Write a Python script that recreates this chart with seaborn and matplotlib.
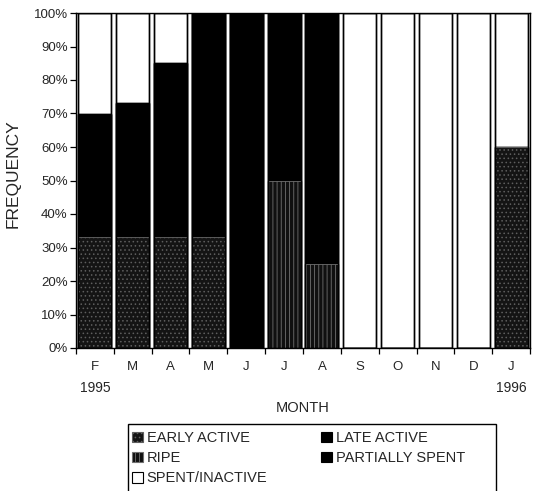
import matplotlib
matplotlib.use('Agg')
import matplotlib.pyplot as plt
from matplotlib.patches import Patch, Rectangle
from matplotlib.transforms import blended_transform_factory
import seaborn as sns
import pandas as pd
import numpy as np

# ---------------- data ----------------
months = ['F', 'M', 'A', 'M', 'J', 'J', 'A', 'S', 'O', 'N', 'D', 'J']
early_active = [33, 33, 33, 33, 0, 0, 0, 0, 0, 0, 0, 60]
ripe = [0, 0, 0, 0, 0, 50, 25, 0, 0, 0, 0, 0]
late_active = [37, 40, 52, 67, 100, 0, 0, 0, 0, 0, 0, 0]
partially_spent = [0, 0, 0, 0, 0, 50, 75, 0, 0, 0, 0, 0]
spent_inactive = [30, 27, 15, 0, 0, 0, 0, 100, 100, 100, 100, 40]
year_labels = {0: '1995', 11: '1996'}

sns.set_theme(style='white')
plt.rcParams['font.family'] = ['Liberation Sans', 'DejaVu Sans']
plt.rcParams['hatch.linewidth'] = 0.6

layers = [
    ('EARLY ACTIVE', early_active, dict(facecolor='#141414', hatch='....', edgecolor='#5e5e5e')),
    ('RIPE', ripe, dict(facecolor='#101010', hatch='||||', edgecolor='#707070')),
    ('LATE ACTIVE', late_active, dict(facecolor='black', hatch=None, edgecolor='black')),
    ('PARTIALLY SPENT', partially_spent, dict(facecolor='black', hatch=None, edgecolor='black')),
    ('SPENT/INACTIVE', spent_inactive, dict(facecolor='white', hatch=None, edgecolor='black')),
]

x = list(range(len(months)))
cum = np.cumsum(np.array([l[1] for l in layers], dtype=float), axis=0) / 100.0

fig = plt.figure(figsize=(5.38, 4.91), dpi=100)
ax = fig.add_axes([76 / 538, 1 - 348 / 491, 454 / 538, 335 / 491])

W = 0.87
# draw from the top layer down so lower layers overlay
for i in range(len(layers) - 1, -1, -1):
    name, vals, st = layers[i]
    df = pd.DataFrame({'x': x, 'y': cum[i]})
    sns.barplot(data=df, x='x', y='y', ax=ax, width=W, color=st['facecolor'],
                saturation=1, edgecolor=st['edgecolor'], hatch=st['hatch'],
                linewidth=0.6 if st['hatch'] else 1.0, errorbar=None)

# outer outlines
df_tot = pd.DataFrame({'x': x, 'y': cum[-1]})
sns.barplot(data=df_tot, x='x', y='y', ax=ax, width=W, fill=False,
            edgecolor='black', linewidth=1.0, errorbar=None)

ax.set_xlim(-0.5, len(months) - 0.5)
ax.set_ylim(0, 1)
ax.set_yticks(np.linspace(0, 1, 11))
ax.set_yticklabels([f'{int(v)}%' for v in range(0, 101, 10)], fontsize=9.5)
ax.set_xticks(x)
ax.set_xticklabels(months, fontsize=9.5)
ax.set_xticks(np.arange(-0.5, len(months), 1.0), minor=True)
ax.tick_params(axis='x', which='major', length=0, pad=9)
ax.tick_params(axis='x', which='minor', length=4, width=0.9, color='black', direction='out', bottom=True)
ax.tick_params(axis='y', which='major', length=4, width=0.9, color='black', direction='out', left=True, pad=2)

for sp in ax.spines.values():
    sp.set_visible(True)
    sp.set_color('black')
    sp.set_linewidth(1.0)

trans = blended_transform_factory(ax.transData, ax.transAxes)
for idx, yl in year_labels.items():
    ax.text(idx, -0.118, yl, transform=trans, ha='center', va='center', fontsize=10)

ax.set_xlabel('MONTH', fontsize=10.5)
ax.xaxis.set_label_coords(0.5, -0.158)
ax.set_ylabel('FREQUENCY', fontsize=12.5)
ax.yaxis.set_label_coords(-0.122, 0.52)

# legend (column-wise fill: col1 = early, ripe, spent; col2 = late, partially)
order = [0, 1, 4, 2, 3]
handles = []
for i in order:
    name, vals, st = layers[i]
    handles.append(Patch(facecolor=st['facecolor'], edgecolor=st['edgecolor'] if st['hatch'] else 'black',
                         hatch=st['hatch'], linewidth=0.8, label=name))
leg = fig.legend(handles=handles, ncol=2, loc='upper left',
                 bbox_to_anchor=(127 / 538, 1 - 426 / 491), fontsize=10.5,
                 frameon=False, borderaxespad=0, borderpad=0.35,
                 handlelength=0.75, handleheight=0.75, handletextpad=0.25,
                 columnspacing=3.7, labelspacing=0.42)
# legend frame extending past the bottom edge, as in the reference
fig.add_artist(Rectangle((128 / 538, 1 - 498 / 491), (496 - 128) / 538, (498 - 424) / 491,
                         transform=fig.transFigure, fill=False, edgecolor='black',
                         linewidth=1.0, clip_on=False))

fig.savefig('out.png', dpi=100, facecolor='white')
